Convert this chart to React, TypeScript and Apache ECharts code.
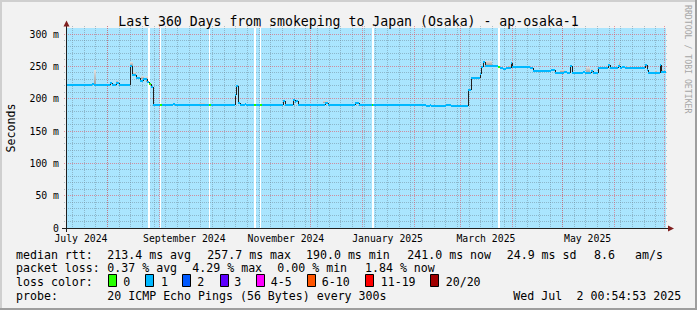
import React, { useEffect, useRef } from 'react';
import * as echarts from 'echarts';

const FONT = 'DejaVu Sans Mono';
const DAY_MS = 86400000;
const END_TS = Date.UTC(2025, 6, 2, 0, 54, 53);
const SPAN_DAYS = 360;
const START_TS = END_TS - SPAN_DAYS * DAY_MS;
const Y_MAX = 309.3;

// ---- axes ----
const yTickValues = [0, 50, 100, 150, 200, 250, 300];
const xTickLabels = ['July 2024', 'September 2024', 'November 2024', 'January 2025', 'March 2025', 'May 2025'];
const xTickMonths = [[2024, 6], [2024, 8], [2024, 10], [2025, 0], [2025, 2], [2025, 4]];

// ---- median rtt (days since graph start, ms, loss bucket) ----
const medianDay = [
  0, 15.6, 16.8, 26.4, 27.6, 30.3, 32.1, 38.4, 40.0, 42.0,
  44.4, 46.2, 49.0, 50.0, 51.3, 52.4, 56.7, 57.8, 61.2, 62.4,
  64.6, 65.4, 78.4, 79.4, 86.0, 87.0, 101.6, 102.2, 103.2, 104.4,
  107.4, 108.4, 113.0, 114.2, 116.6, 117.6, 130.4, 131.8, 136.4, 137.4,
  138.3, 139.2, 155.4, 157.4, 173.4, 175.8, 183.6, 184.6, 216.4, 218.8,
  219.4, 228.4, 231.0, 241.4, 243.0, 248.4, 249.3, 250.4, 251.4, 259.5,
  260.6, 262.2, 264.0, 267.3, 268.0, 278.4, 280.4, 291.4, 293.4, 299.0,
  300.6, 302.4, 303.6, 310.2, 311.4, 315.4, 316.5, 319.4, 325.4, 326.4,
  331.4, 332.4, 333.6, 335.4, 347.4, 348.6, 349.4, 356.4, 357.2,
];
const medianMs = [
  221.5, 223, 221.5, 223.5, 221.5, 225, 221.5, 250.4, 236.5, 232,
  227, 231, 226, 222, 217.5, 190.5, 190.5, 190.5, 189.5, 190.5,
  192, 190.5, 189.5, 190.5, 190.5, 190.5, 205, 219, 193, 190.5,
  192.5, 190.5, 190.5, 190.5, 190.5, 190.5, 196, 190.5, 198, 195,
  197, 190.5, 193.5, 190.5, 193, 190.5, 190.5, 190.5, 189.3, 190.5,
  189.3, 190.5, 189.3, 213.5, 232.3, 237.5, 249, 256.5, 250, 249.3,
  247.8, 246.2, 248, 255.5, 249, 248, 243, 244.7, 240, 242,
  240, 250.4, 240, 242, 240, 243.5, 240, 247.8, 251.4, 247.5,
  251, 248, 249, 248, 252.4, 243.7, 240, 251.4, 241,
];
const medianLoss = [
  1, 1, 1, 1, 1, 1, 1, 1, 1, 1,
  1, 1, 1, 0, 1, 1, 0, 1, 1, 1,
  1, 1, 1, 1, 0, 1, 1, 1, 1, 1,
  1, 1, 0, 1, 0, 1, 1, 1, 1, 1,
  1, 1, 1, 1, 1, 1, 0, 1, 1, 1,
  1, 1, 1, 1, 1, 1, 1, 1, 1, 0,
  1, 1, 1, 1, 1, 1, 1, 1, 1, 1,
  1, 1, 1, 1, 1, 1, 1, 1, 1, 1,
  1, 1, 1, 1, 1, 1, 1, 1, 1,
];

// ---- smoke (ping spread) ----
const smokeStart = [16.8, 30.4, 38.7, 40.2, 45.0, 48.0, 79.8, 154.2, 251.4, 265.8, 296.4, 312.4, 315.4, 326.0, 331.8, 336.6, 353.4, 357.0];
const smokeEnd = [18.0, 31.6, 40.2, 42.0, 46.8, 49.2, 83.4, 157.2, 255.6, 267.0, 299.4, 314.4, 316.2, 326.7, 332.7, 338.4, 354.6, 358.2];
const smokeLow = [221.5, 224, 250, 236, 231, 226, 190.5, 193.5, 250, 248, 242, 240, 243.5, 251.4, 251, 248, 240, 241];
const smokeHigh = [245, 229, 257, 241, 235, 235, 193, 196.5, 259, 252, 245, 249, 246, 255, 257.6, 250, 245, 246];

// ---- periods without data (days since start) ----
const gapStart = [49.6, 56.4, 86.0, 112.8, 116.4, 183.8, 259.5];
const gapEnd = [50.8, 57.3, 86.9, 114.2, 117.2, 184.8, 260.7];

// ---- legend ----
const lossLabels = ['0', '1', '2', '3', '4-5', '6-10', '11-19', '20/20'];
const lossColors = ['#26ff00', '#00b8ff', '#0059ff', '#5e00ff', '#ff00ff', '#ff5500', '#ff0000', '#a10000'];
const rttStats = ['213.4 ms avg', '257.7 ms max', '190.0 ms min', '241.0 ms now', '24.9 ms sd', '8.6', 'am/s'];
const lossStats = ['0.37 % avg', '4.29 % max', '0.00 % min', '1.84 % now'];
const probeText = '20 ICMP Echo Pings (56 Bytes) every 300s';
const dateParts = ['Wed Jul', '2 00:54:53 2025'];
const titleText = 'Last 360 Days from smokeping to Japan (Osaka) - ap-osaka-1';

const BLUE = '#aae5fe';
const GRID_MINOR = 'rgba(110,135,150,0.5)';
const GRID_MAJOR = 'rgba(235,70,80,0.55)';

const daysOf = (ts: number) => (ts - START_TS) / DAY_MS;

function buildOption() {
  const xLabelDays = xTickMonths.map(([y, m]) => daysOf(Date.UTC(y, m, 1)) + 15);

  const weekDays: number[][] = [];
  for (let t = Date.UTC(2024, 6, 11); t < END_TS; t += 7 * DAY_MS) weekDays.push([daysOf(t), 0]);
  const monthDays: number[][] = [];
  for (let m = 7; m <= 18; m++) monthDays.push([daysOf(Date.UTC(2024, m, 1)), 0]);
  const minorH: number[][] = [];
  for (let v = 10; v <= 300; v += 10) if (v % 50 !== 0) minorH.push([0, v]);
  const majorH = yTickValues.filter((v) => v > 0).map((v) => [0, v]);

  const coverage: number[][] = [];
  let prev = 0;
  gapStart.forEach((g, i) => {
    coverage.push([prev, g, 0]);
    prev = gapEnd[i];
  });
  coverage.push([prev, SPAN_DAYS, 0]);
  const gaps = gapStart.map((g, i) => [g, gapEnd[i], 0]);

  const smoke = smokeStart.map((s, i) => [s, smokeEnd[i], smokeLow[i], smokeHigh[i]]);

  const n = medianDay.length;
  const median = medianDay.map((d, i) => [
    d,
    i + 1 < n ? medianDay[i + 1] : SPAN_DAYS,
    medianMs[i],
    i + 1 < n ? medianMs[i + 1] : medianMs[i],
    medianLoss[i],
  ]);

  const spanRect = (fill: string) => (params: any, api: any) => {
    const cs = params.coordSys;
    const x1 = Math.floor(api.coord([api.value(0), 0])[0]);
    const x2 = Math.floor(api.coord([api.value(1), 0])[0]);
    return {
      type: 'rect',
      shape: { x: x1, y: cs.y, width: Math.max(1, x2 - x1), height: cs.height },
      style: { fill },
    };
  };

  const vLine = (color: string) => (params: any, api: any) => {
    const cs = params.coordSys;
    const x = Math.floor(api.coord([api.value(0), 0])[0]) + 0.5;
    return {
      type: 'line',
      shape: { x1: x, y1: cs.y - 2, x2: x, y2: cs.y + cs.height + 2 },
      style: { stroke: color, lineWidth: 1, lineDash: [1, 1], fill: null },
    };
  };
  const hLine = (color: string) => (params: any, api: any) => {
    const cs = params.coordSys;
    const y = Math.floor(api.coord([0, api.value(1)])[1]) + 0.5;
    return {
      type: 'line',
      shape: { x1: cs.x - 2, y1: y, x2: cs.x + cs.width + 2, y2: y },
      style: { stroke: color, lineWidth: 1, lineDash: [1, 1], fill: null },
    };
  };

  const smokeFill = new echarts.graphic.LinearGradient(0, 0, 0, 1, [
    { offset: 0, color: '#e2e2e2' },
    { offset: 1, color: '#9a9a9a' },
  ]);

  const legendTexts: any[] = [];
  const txt = (x: number, y: number, text: string, extra: any = {}) => ({
    type: 'text',
    x,
    y,
    silent: true,
    z: 100,
    style: { text, fill: '#000', fontFamily: FONT, fontSize: 11.6, align: 'left', verticalAlign: 'middle', ...extra },
  });
  const rttX = [107.3, 207.3, 306, 407.3, 506.7, 594, 635];
  const lossX = [107.3, 192.3, 277.3, 365];
  const boxX = [108.3, 145.7, 182.7, 220, 256.7, 307, 365.7, 430.7];
  const boxLabelX = [123.3, 161, 197.3, 234.3, 270.7, 321.7, 380.7, 445.7];
  const rowY = [254.5, 268.3, 282.2, 295.9];

  legendTexts.push(txt(16, rowY[0], 'median rtt:'));
  rttStats.forEach((s, i) => legendTexts.push(txt(rttX[i], rowY[0], s)));
  legendTexts.push(txt(16, rowY[1], 'packet loss:'));
  lossStats.forEach((s, i) => legendTexts.push(txt(lossX[i], rowY[1], s)));
  legendTexts.push(txt(16, rowY[2], 'loss color:'));
  lossLabels.forEach((s, i) => {
    legendTexts.push({
      type: 'rect',
      silent: true,
      z: 100,
      shape: { x: Math.floor(boxX[i]) + 0.5, y: 274.5, width: 8, height: 12 },
      style: { fill: lossColors[i], stroke: '#000', lineWidth: 1 },
    });
    legendTexts.push(txt(boxLabelX[i], rowY[2], s));
  });
  legendTexts.push(txt(16, rowY[3], 'probe:'));
  legendTexts.push(txt(107.3, rowY[3], probeText));
  legendTexts.push(txt(513.3, rowY[3], dateParts[0]));
  legendTexts.push(txt(576.5, rowY[3], dateParts[1]));

  const deco: any[] = [
    { type: 'rect', silent: true, z: 100, shape: { x: 0, y: 0, width: 697, height: 2 }, style: { fill: '#cfcfcf' } },
    { type: 'rect', silent: true, z: 100, shape: { x: 0, y: 0, width: 2, height: 310 }, style: { fill: '#cfcfcf' } },
    { type: 'rect', silent: true, z: 100, shape: { x: 0, y: 308, width: 697, height: 2 }, style: { fill: '#9e9e9e' } },
    { type: 'rect', silent: true, z: 100, shape: { x: 695, y: 0, width: 2, height: 310 }, style: { fill: '#9e9e9e' } },
    { type: 'line', silent: true, z: 100, shape: { x1: 66.5, y1: 232, x2: 66.5, y2: 24 }, style: { stroke: '#1f1f1f', lineWidth: 1 } },
    { type: 'line', silent: true, z: 100, shape: { x1: 62, y1: 228.5, x2: 670, y2: 228.5 }, style: { stroke: '#1f1f1f', lineWidth: 1 } },
    { type: 'polygon', silent: true, z: 100, shape: { points: [[63.5, 26.5], [66.5, 20.5], [69.5, 26.5]] }, style: { fill: '#801f1f' } },
    { type: 'polygon', silent: true, z: 100, shape: { points: [[668, 225.5], [674, 228.5], [668, 231.5]] }, style: { fill: '#801f1f' } },
    {
      type: 'text', silent: true, z: 100, x: 687.5, y: 5, rotation: -Math.PI / 2,
      style: { text: 'RRDTOOL / TOBI OETIKER', fill: '#a6a6a6', fontFamily: FONT, fontSize: 8.2, align: 'left', verticalAlign: 'middle' },
    },
  ];

  return {
    animation: false,
    backgroundColor: '#f2f2f2',
    textStyle: { fontFamily: FONT },
    title: {
      text: titleText,
      left: 'center',
      top: 8,
      textStyle: { fontFamily: FONT, fontSize: 13.2, fontWeight: 'normal', color: '#000', lineHeight: 16 },
    },
    grid: {
      left: 66, top: 28, width: 600, height: 200,
      show: true, backgroundColor: '#ffffff', borderWidth: 0,
      containLabel: false, outerBoundsMode: 'none',
    },
    xAxis: {
      type: 'value',
      min: 0,
      max: SPAN_DAYS,
      axisLine: { show: false },
      axisTick: { show: false },
      splitLine: { show: false },
      axisLabel: {
        customValues: xLabelDays,
        formatter: (v: number) => {
          const i = xLabelDays.findIndex((d) => Math.abs(d - v) < 0.01);
          return i >= 0 ? xTickLabels[i] : '';
        },
        fontFamily: FONT,
        fontSize: 9.8,
        lineHeight: 10,
        color: '#000',
        margin: 5,
      },
    },
    yAxis: {
      type: 'value',
      min: 0,
      max: Y_MAX,
      interval: 50,
      axisLine: { show: false },
      axisTick: { show: false },
      splitLine: { show: false },
      axisLabel: {
        customValues: yTickValues,
        formatter: (v: number) => (v === 0 ? '0' : yTickValues.includes(v) ? `${v} m` : ''),
        fontFamily: FONT,
        fontSize: 9.8,
        lineHeight: 8,
        color: '#000',
        margin: 7,
      },
      name: 'Seconds',
      nameLocation: 'middle',
      nameRotate: 90,
      nameGap: 49,
      nameTextStyle: { fontFamily: FONT, fontSize: 11.6, color: '#000' },
    },
    series: [
      {
        type: 'custom', name: 'coverage', z: 1, silent: true,
        data: coverage, encode: { x: [0, 1], y: 2 },
        renderItem: spanRect(BLUE),
      },
      {
        type: 'custom', name: 'weekly grid', z: 2, silent: true,
        data: weekDays, encode: { x: 0, y: 1 },
        renderItem: vLine(GRID_MINOR),
      },
      {
        type: 'custom', name: 'minor y grid', z: 2, silent: true,
        data: minorH, encode: { x: 0, y: 1 },
        renderItem: hLine(GRID_MINOR),
      },
      {
        type: 'custom', name: 'monthly grid', z: 2.1, silent: true,
        data: monthDays, encode: { x: 0, y: 1 },
        renderItem: vLine(GRID_MAJOR),
      },
      {
        type: 'custom', name: 'major y grid', z: 2.1, silent: true,
        data: majorH, encode: { x: 0, y: 1 },
        renderItem: hLine(GRID_MAJOR),
      },
      {
        type: 'custom', name: 'gaps', z: 3, silent: true,
        data: gaps, encode: { x: [0, 1], y: 2 },
        renderItem: spanRect('#ffffff'),
      },
      {
        type: 'custom', name: 'smoke', z: 4, silent: true,
        data: smoke, encode: { x: [0, 1], y: [2, 3] },
        renderItem: (params: any, api: any) => {
          const pTop = api.coord([api.value(0), api.value(3)]);
          const pBot = api.coord([api.value(1), api.value(2)]);
          const x1 = Math.floor(pTop[0]);
          const x2 = Math.max(x1 + 1, Math.floor(pBot[0]));
          const yT = Math.round(pTop[1]);
          const yB = Math.round(pBot[1]);
          return { type: 'rect', shape: { x: x1, y: yT, width: x2 - x1, height: Math.max(1, yB - yT) }, style: { fill: smokeFill } };
        },
      },
      {
        type: 'custom', name: 'median rtt', z: 5, silent: true,
        data: median, encode: { x: [0, 1], y: [2, 3] },
        renderItem: (params: any, api: any) => {
          const d0 = api.value(0);
          const d1 = api.value(1);
          const v = api.value(2);
          const vn = api.value(3);
          const loss = api.value(4);
          const p0 = api.coord([d0, v]);
          const p1 = api.coord([d1, v]);
          const pn = api.coord([d1, vn]);
          const x0 = Math.floor(p0[0]);
          const x1 = Math.floor(p1[0]);
          const y = Math.round(p0[1]);
          const yn = Math.round(pn[1]);
          const children: any[] = [];
          children.push({ type: 'rect', shape: { x: x0, y: y - 1, width: Math.max(1, x1 - x0), height: 2 }, style: { fill: lossColors[loss] } });
          if (vn !== v && d1 < SPAN_DAYS) {
            children.push({ type: 'line', shape: { x1: x1 + 0.5, y1: y, x2: x1 + 0.5, y2: yn }, style: { stroke: '#202020', lineWidth: 1 } });
          }
          return { type: 'group', children };
        },
      },
    ],
    graphic: [...deco, ...legendTexts],
  };
}

export default function App() {
  const ref = useRef<HTMLDivElement>(null);
  useEffect(() => {
    if (!ref.current) return;
    const chart = echarts.init(ref.current, null, { renderer: 'svg' });
    chart.setOption(buildOption() as any);
    return () => chart.dispose();
  }, []);
  return <div ref={ref} style={{ position: 'fixed', left: 0, top: 0, width: 697, height: 310 }} />;
}
